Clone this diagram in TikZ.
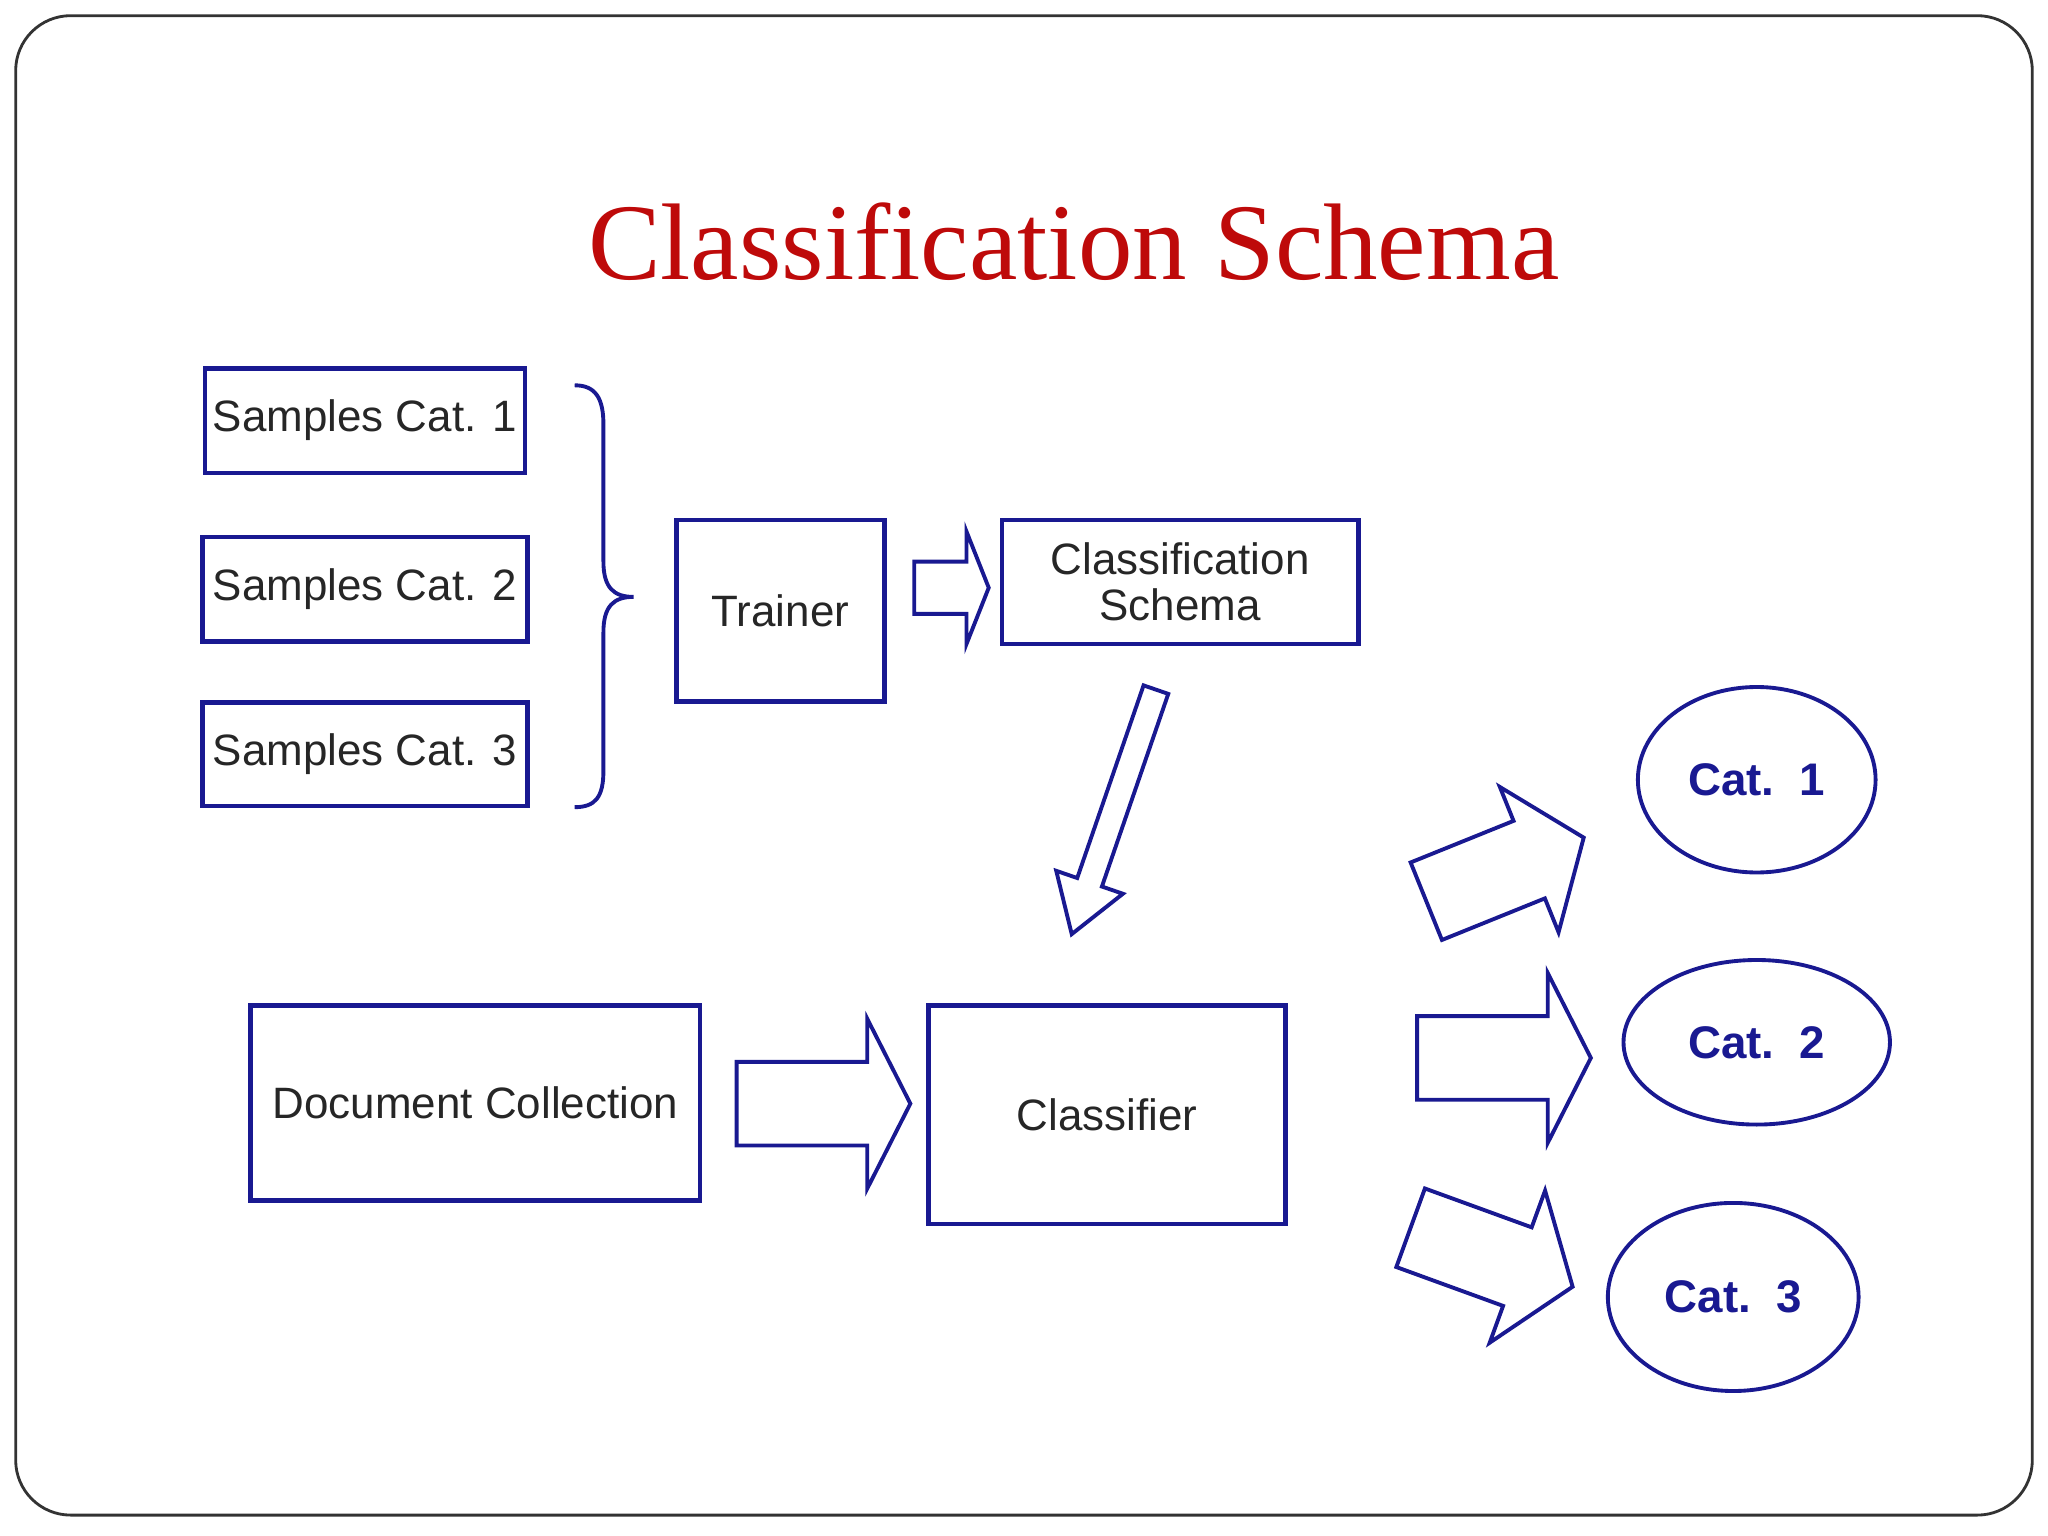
\documentclass[tikz,border=0pt]{standalone}
\usetikzlibrary{shapes.geometric}
\usepackage{fontspec}
\setmainfont{Liberation Sans}
\newfontfamily\titlefont{Liberation Serif}
\begin{document}
\def\u{0.01306cm}
\definecolor{nav}{RGB}{25,25,145}
\definecolor{ttl}{RGB}{190,10,10}
\tikzset{
 box/.style={draw=nav,line width=1.3pt,rectangle,inner sep=0pt,font=\fontsize{12.5}{14}\selectfont,align=center,text=black!85},
 cat/.style={draw=nav,line width=1.1pt,ellipse,inner sep=0pt,font=\bfseries\fontsize{13}{15}\selectfont,text=nav},
 arr/.style={draw=nav,line width=1.1pt,line join=miter,fill=white},
 pics/barrow/.style n args={4}{code={\draw[arr] (0,-#2)--(#1-#4,-#2)--(#1-#4,-#3)--(#1,0)--(#1-#4,#3)--(#1-#4,#2)--(0,#2)--cycle;}}
}
\begin{tikzpicture}[x=\u,y=-\u]
\useasboundingbox (0,0) rectangle (1568,1176);
\draw[black!80,line width=0.8pt,rounded corners=0.55cm] (12,12) rectangle (1556,1160);
\node[text=ttl,font=\titlefont\fontsize{31}{34}\selectfont] (title) at (822,185) {Classification Schema};
\node[box,minimum width=245*\u,minimum height=80*\u] (s1) at (279.5,322) {Samples Cat. 1};
\node[box,minimum width=249*\u,minimum height=80*\u] (s2) at (279.5,451) {Samples Cat. 2};
\node[box,minimum width=249*\u,minimum height=79*\u] (s3) at (279.5,577.5) {Samples Cat. 3};
\node[box,minimum width=159*\u,minimum height=139*\u] (tr) at (597.5,467.5) {Trainer};
\node[box,minimum width=273*\u,minimum height=95*\u] (sc) at (903.5,445.5) {Classification\\[-1pt]Schema};
\node[box,minimum width=344*\u,minimum height=149*\u] (dc) at (364,844.5) {Document Collection};
\node[box,minimum width=273*\u,minimum height=167*\u] (cl) at (847.5,853.5) {Classifier};
\node[cat,minimum width=182*\u,minimum height=142*\u] (c1) at (1345,597) {Cat.\ \ 1};
\node[cat,minimum width=204*\u,minimum height=126*\u] (c2) at (1345,798) {Cat.\ \ 2};
\node[cat,minimum width=192*\u,minimum height=144*\u] (c3) at (1327,993) {Cat.\ \ 3};
\draw[nav,line width=1.1pt] (440,295) .. controls (456,295) and (462,305) .. (462,325) -- (462,430) .. controls (462,450) and (470,457) .. (485,457) .. controls (470,457) and (462,464) .. (462,484) -- (462,590) .. controls (462,610) and (456,618) .. (440,618);
\pic at (700,450) {barrow={57}{20}{43}{17}};
\pic[rotate=251] at (885,528) {barrow={198}{10}{27}{42}};
\pic at (564,845) {barrow={133}{32}{65}{33}};
\pic[rotate=22] at (1092,690) {barrow={130}{32}{60}{45}};
\pic at (1085,810) {barrow={133}{32}{65}{33}};
\pic[rotate=-20] at (1080,940) {barrow={132}{32}{62}{45}};
\end{tikzpicture}
\end{document}
